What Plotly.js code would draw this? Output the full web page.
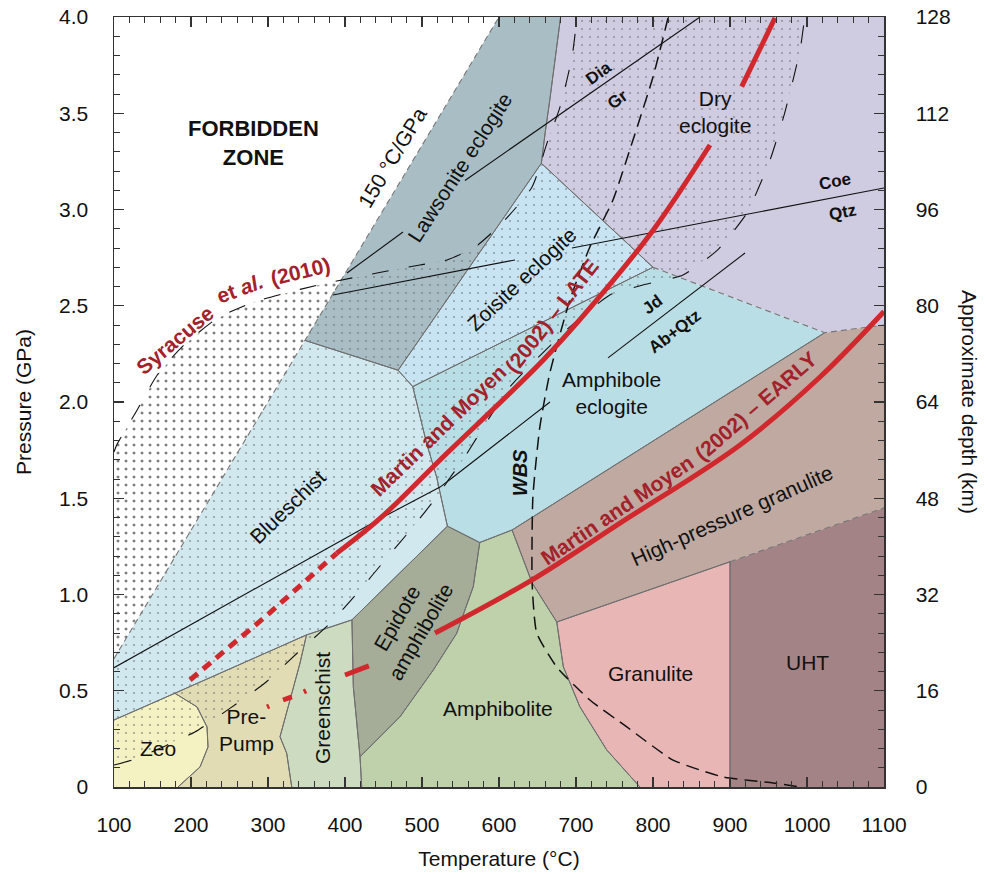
<!DOCTYPE html>
<html><head><meta charset="utf-8">
<script src="https://cdn.plot.ly/plotly-3.0.1.min.js"></script>
<style>html,body{margin:0;padding:0;background:#fff}#chart{width:988px;height:874px}</style>
</head><body><div id="chart"></div>
<script>
// ===== Facies polygons: Temperature (°C) and Pressure (GPa) =====
const zeoT = [100,179,207.8,220.8,222.1,211.7,183.1,100];
const zeoP = [0.348,0.487,0.416,0.312,0.208,0.104,0,0];
const prepumpT = [179,350,341.6,328.6,315.6,324.3,330.8,183.1,211.7,222.1,220.8,207.8];
const prepumpP = [0.487,0.79,0.644,0.452,0.261,0.175,0,0,0.104,0.208,0.312,0.416];
const greenschistT = [350,409,410.8,419.5,421.7,330.8,324.3,315.6,328.6,341.6];
const greenschistP = [0.79,0.868,0.521,0.157,0,0,0.175,0.261,0.452,0.644];
const blueschistT = [100,100,348,469,488,506,519,533,409,350,179];
const blueschistP = [0.348,0.667,2.32,2.165,2.08,1.785,1.61,1.355,0.868,0.79,0.487];
const lawsoniteT = [348,600,680,666,660,655,469];
const lawsoniteP = [2.32,4.0,4.0,3.57,3.40,3.24,2.165];
const zoisiteT = [469,655,800,488];
const zoisiteP = [2.165,3.24,2.70,2.08];
const dryEclT = [680,1100,1100,1023,800,655,660,666];
const dryEclP = [4.0,4.0,2.40,2.36,2.70,3.24,3.40,3.57];
const amphEclT = [488,800,1023,617,575,533,519,506];
const amphEclP = [2.08,2.70,2.36,1.335,1.27,1.355,1.61,1.785];
const hpGranT = [617,1023,1100,1100,900,675,643];
const hpGranP = [1.335,2.36,2.40,1.45,1.17,0.857,1.06];
const granT = [675,900,900,783,740,705,683.5];
const granP = [0.857,1.17,0,0,0.192,0.417,0.625];
const uhtT = [900,1100,1100,900];
const uhtP = [1.17,1.45,0,0];
const amphT = [575,617,643,675,683.5,705,740,783,421.7,419.5,471.4,514.7,545,566.6];
const amphP = [1.27,1.335,1.06,0.857,0.625,0.417,0.192,0,0,0.157,0.365,0.608,0.798,1.041];
const epiT = [409,533,575,566.6,545,514.7,471.4,419.5,410.8];
const epiP = [0.868,1.355,1.27,1.041,0.798,0.608,0.365,0.157,0.521];

// dashed grey facies boundaries
const line150T = [100,348,600];     const line150P = [0.667,2.32,4.0];
const dryAmphT = [800,1023,1100];   const dryAmphP = [2.70,2.36,2.40];
const uhtTopT = [900,1100];         const uhtTopP = [1.17,1.45];

// Syracuse et al. (2010) envelope: upper arc and lower rim
const arcT = [100,103.5,129.5,156.2,190,234.2,283.1,341.6,384.8,441.6,497.4,532.5,568.8,605.2,642.9,662.3,679.2,694.8,701.3];
const arcP = [1.74,1.777,1.955,2.140,2.293,2.435,2.521,2.585,2.625,2.670,2.712,2.738,2.805,2.935,3.117,3.345,3.532,3.792,4.0];
const arcCrossT = 395, arcCrossP = 2.633;
const rimT = [100,127,205,251,296,338,381,416,452,487,521,536,553,614,692,744,787,839,884,922,952,971,991,997];
const rimP = [0.114,0.145,0.286,0.410,0.540,0.696,0.852,1.008,1.179,1.345,1.517,1.605,1.699,2.078,2.390,2.556,2.608,2.660,2.790,2.982,3.257,3.501,3.829,4.0];

// reaction lines
const diaT = [402.6,475.3,null,555.8,861];   const diaP = [2.670,2.883,null,3.151,4.0];
const coeT = [384.4,620.8,null,694.8,1100];  const coeP = [2.556,2.738,null,2.800,3.112];
const jdT = [100,380.5,454.5,523.4,539,666.2,null,741.6,919.5];
const jdP = [0.62,1.25,1.413,1.558,1.605,2.0,null,2.229,2.774];
const wbsT = [819.5,800,774,748,718,692,666,653,644,643,649,675,718,766,826,891,956,991];
const wbsP = [3.995,3.688,3.361,3.049,2.805,2.530,2.151,1.870,1.506,1.060,0.800,0.623,0.452,0.312,0.140,0.052,0.021,0];

// Martin and Moyen (2002) geotherms
const lateDashT = [198.7,296,389.2];  const lateDashP = [0.556,0.883,1.214];
const lateT = [389.2,445.5,523.4,657.5,727,800.4,874];
const lateP = [1.214,1.395,1.699,2.218,2.53,2.894,3.335];
const lateTopT = [915.2,958.4];       const lateTopP = [3.638,3.995];
const earlyDashT = [298.7,301.5,null,319.5,331,null,346.5,349.5,null,400,431];
const earlyDashP = [0.416,0.421,null,0.452,0.468,null,0.494,0.500,null,0.582,0.629];
const earlyT = [516.9,640.3,757.1,913,1016.9,1100];
const earlyP = [0.80,1.070,1.371,1.777,2.130,2.47];

// labels
const faciesLabels = ['FORBIDDEN<br>ZONE','150 °C/GPa','Lawsonite eclogite','Zoisite eclogite','Dry<br>eclogite','Amphibole<br>eclogite','Blueschist','Epidote<br>amphibolite','Greenschist','Pre-<br>Pump','Zeo','Amphibolite','Granulite','UHT','High-pressure granulite'];
const faciesLabelT = [281.4,462.3,549.4,630.5,880.5,746.4,326,482.5,370.1,272.7,157.5,598.7,796.1,1000,902.6];
const faciesLabelP = [3.343,3.273,3.216,2.639,3.506,2.045,1.455,0.842,0.41,0.296,0.201,0.41,0.592,0.649,1.408];
const faciesLabelAngle = [0,-59,-57,-43,0,0,-44,-60,-90,0,0,0,0,0,-24];
const reactLabels = ['Dia','Gr','Coe','Qtz','Jd','Ab+Qtz','<i>WBS</i>'];
const reactLabelT = [728.6,754.5,1036.4,1045.5,800,828.6,627.3];
const reactLabelP = [3.709,3.569,3.143,2.982,2.504,2.364,1.63];
const reactLabelAngle = [-36,-36,-11,-11,-37,-37,-90];
const redLabels = ['Syracuse','et <i>al.</i>','(2010)','Martin and Moyen','(2002) – LATE','Martin and Moyen','(2002) – EARLY'];
const redLabelT = [178,263.6,341.6,520.8,668.8,754.5,932.5];
const redLabelP = [2.322,2.591,2.677,1.852,2.449,1.439,1.979];
const redLabelAngle = [-40,-20,-14,-44,-52,-34,-41];

const xTicks = [100,200,300,400,500,600,700,800,900,1000,1100];
const yTicks = [0,0.5,1,1.5,2,2.5,3,3.5,4];
const yTickText = ['0','0.5','1.0','1.5','2.0','2.5','3.0','3.5','4.0'];
const depthTicks = [0,16,32,48,64,80,96,112,128];

// ===== build =====
const FONT = 'Liberation Sans, Arial, Helvetica, sans-serif';
const facies = [
  {t:zeoT,p:zeoP,c:'#f4f1c2'},
  {t:prepumpT,p:prepumpP,c:'#e1dcb4'},
  {t:greenschistT,p:greenschistP,c:'#cddcc0'},
  {t:blueschistT,p:blueschistP,c:'#d0e8ee'},
  {t:lawsoniteT,p:lawsoniteP,c:'#a9bec4'},
  {t:zoisiteT,p:zoisiteP,c:'#c8e4f2'},
  {t:dryEclT,p:dryEclP,c:'#cfcbe1'},
  {t:amphEclT,p:amphEclP,c:'#badee6'},
  {t:hpGranT,p:hpGranP,c:'#bfa9a1'},
  {t:granT,p:granP,c:'#e8b6b5'},
  {t:uhtT,p:uhtP,c:'#a48386'},
  {t:amphT,p:amphP,c:'#bed1aa'},
  {t:epiT,p:epiP,c:'#a5ad98'}
];
const traces = [];
facies.forEach(f => traces.push({type:'scatter',mode:'lines',x:f.t.concat([f.t[0]]),y:f.p.concat([f.p[0]]),
  fill:'toself',fillcolor:f.c,line:{width:0},hoverinfo:'skip',showlegend:false}));

// stipple: black on forbidden zone part, grey on facies part
const blackX = arcT.slice(0,9).concat([arcCrossT,100]);
const blackY = arcP.slice(0,9).concat([arcCrossP,0.667]);
traces.push({type:'scatter',mode:'lines',x:blackX,y:blackY,fill:'toself',fillcolor:'rgba(0,0,0,0)',line:{width:0},
  fillpattern:{shape:'.',size:8,solidity:0.11,fgcolor:'#000',bgcolor:'rgba(0,0,0,0)',fillmode:'overlay'},hoverinfo:'skip',showlegend:false});
const greyX = [arcCrossT].concat(arcT.slice(9), rimT.slice().reverse(), [100]);
const greyY = [arcCrossP].concat(arcP.slice(9), rimP.slice().reverse(), [0.667]);
traces.push({type:'scatter',mode:'lines',x:greyX,y:greyY,fill:'toself',fillcolor:'rgba(0,0,0,0)',line:{width:0},
  fillpattern:{shape:'.',size:8,solidity:0.06,fgcolor:'#5a5a5a',bgcolor:'rgba(0,0,0,0)',fillmode:'overlay'},hoverinfo:'skip',showlegend:false});

// solid grey boundaries (excluding dashed ones and frame)
const dashedSet = new Set();
[[line150T,line150P],[dryAmphT,dryAmphP],[uhtTopT,uhtTopP]].forEach(([t,p]) => {
  for (let i=0;i<t.length-1;i++){
    dashedSet.add(t[i]+','+p[i]+'|'+t[i+1]+','+p[i+1]);
    dashedSet.add(t[i+1]+','+p[i+1]+'|'+t[i]+','+p[i]);
  }
});
const bx=[], by=[];
facies.forEach(f => {
  const n=f.t.length;
  for (let i=0;i<n;i++){
    const j=(i+1)%n;
    const k=f.t[i]+','+f.p[i]+'|'+f.t[j]+','+f.p[j];
    if (dashedSet.has(k)) continue;
    if (f.t[i]===f.t[j] && (f.t[i]===100||f.t[i]===1100)) continue;
    if (f.p[i]===f.p[j] && (f.p[i]===0||f.p[i]===4)) continue;
    bx.push(f.t[i],f.t[j],null); by.push(f.p[i],f.p[j],null);
  }
});
traces.push({type:'scatter',mode:'lines',x:bx,y:by,line:{color:'#6e6e6e',width:1},hoverinfo:'skip',showlegend:false});
[[line150T,line150P],[dryAmphT,dryAmphP],[uhtTopT,uhtTopP]].forEach(([t,p]) =>
  traces.push({type:'scatter',mode:'lines',x:t,y:p,line:{color:'#777',width:1.1,dash:'6px,4px'},hoverinfo:'skip',showlegend:false}));

// black dashed envelope lines
traces.push({type:'scatter',mode:'lines',x:arcT,y:arcP,line:{color:'#111',width:1.1,dash:'17px,20px',shape:'spline',smoothing:0.6},hoverinfo:'skip',showlegend:false});
traces.push({type:'scatter',mode:'lines',x:rimT,y:rimP,line:{color:'#111',width:1.1,dash:'18px,22px',shape:'spline',smoothing:0.5},hoverinfo:'skip',showlegend:false});
// reaction lines
[[diaT,diaP],[coeT,coeP],[jdT,jdP]].forEach(([t,p]) =>
  traces.push({type:'scatter',mode:'lines',x:t,y:p,line:{color:'#111',width:1.1},connectgaps:false,hoverinfo:'skip',showlegend:false}));
traces.push({type:'scatter',mode:'lines',x:wbsT,y:wbsP,line:{color:'#111',width:1.5,dash:'13px,7px',shape:'spline',smoothing:0.5},hoverinfo:'skip',showlegend:false});

// red geotherms
const RED = '#d1282e';
traces.push({type:'scatter',mode:'lines',x:lateDashT,y:lateDashP,line:{color:RED,width:5,dash:'10px,7px'},hoverinfo:'skip',showlegend:false});
traces.push({type:'scatter',mode:'lines',x:lateT,y:lateP,line:{color:RED,width:5,shape:'spline',smoothing:1},hoverinfo:'skip',showlegend:false});
traces.push({type:'scatter',mode:'lines',x:lateTopT,y:lateTopP,line:{color:RED,width:5},hoverinfo:'skip',showlegend:false});
traces.push({type:'scatter',mode:'lines',x:earlyDashT,y:earlyDashP,line:{color:RED,width:5},connectgaps:false,hoverinfo:'skip',showlegend:false});
traces.push({type:'scatter',mode:'lines',x:earlyT,y:earlyP,line:{color:RED,width:5,shape:'spline',smoothing:1},hoverinfo:'skip',showlegend:false});

// dummy trace for depth axis
traces.push({type:'scatter',mode:'markers',x:[100],y:[0],yaxis:'y2',marker:{opacity:0},hoverinfo:'skip',showlegend:false});

// annotations
const ann = [];
faciesLabels.forEach((s,i) => ann.push({x:faciesLabelT[i],y:faciesLabelP[i],xref:'x',yref:'y',text: i===0 ? '<b>'+s+'</b>' : s,
  textangle:faciesLabelAngle[i],showarrow:false,xanchor:'center',yanchor:'middle',font:{family:FONT,size:i===0?22:21,color:'#111'}}));
reactLabels.forEach((s,i) => ann.push({x:reactLabelT[i],y:reactLabelP[i],xref:'x',yref:'y',text:'<b>'+s+'</b>',
  textangle:reactLabelAngle[i],showarrow:false,xanchor:'center',yanchor:'middle',font:{family:FONT,size:i===6?20:17,color:'#111'}}));
redLabels.forEach((s,i) => ann.push({x:redLabelT[i],y:redLabelP[i],xref:'x',yref:'y',text:'<b>'+s+'</b>',
  textangle:redLabelAngle[i],showarrow:false,xanchor:'center',yanchor:'middle',font:{family:FONT,size:21,color:'#a3212a'}}));
ann.push({x:1.1117,y:0.5,xref:'paper',yref:'paper',text:'Approximate depth (km)',textangle:90,showarrow:false,
  xanchor:'center',yanchor:'middle',font:{family:FONT,size:21,color:'#111'}});

const axBase = {ticks:'inside',tickcolor:'#333',tickwidth:1.2,ticklen:10,showline:true,linecolor:'#333',linewidth:1.5,
  showgrid:false,zeroline:false,tickfont:{family:FONT,size:21,color:'#111'}};
const layout = {
  width:988,height:874,margin:{l:114,r:104,t:17,b:87},
  paper_bgcolor:'#fff',plot_bgcolor:'#fff',showlegend:false,hovermode:false,
  font:{family:FONT,color:'#111'},
  xaxis:Object.assign({},axBase,{range:[100,1100],tickvals:xTicks,mirror:'ticks',ticklabelstandoff:18,
    minor:{dtick:20,tick0:100,ticks:'inside',ticklen:6,tickcolor:'#333',tickwidth:1,showgrid:false},
    title:{text:'Temperature (°C)',font:{family:FONT,size:21},standoff:16}}),
  yaxis:Object.assign({},axBase,{range:[0,4],tickvals:yTicks,ticktext:yTickText,ticklabelstandoff:20,
    minor:{dtick:0.1,tick0:0,ticks:'inside',ticklen:6,tickcolor:'#333',tickwidth:1,showgrid:false},
    title:{text:'Pressure (GPa)',font:{family:FONT,size:21},standoff:21}}),
  yaxis2:Object.assign({},axBase,{overlaying:'y',side:'right',range:[0,128],tickvals:depthTicks,ticklabelstandoff:26,
    minor:{dtick:3.2,tick0:0,ticks:'inside',ticklen:6,tickcolor:'#333',tickwidth:1,showgrid:false}}),
  annotations:ann
};
Plotly.newPlot('chart',traces,layout,{displayModeBar:false,staticPlot:true});
</script></body></html>
